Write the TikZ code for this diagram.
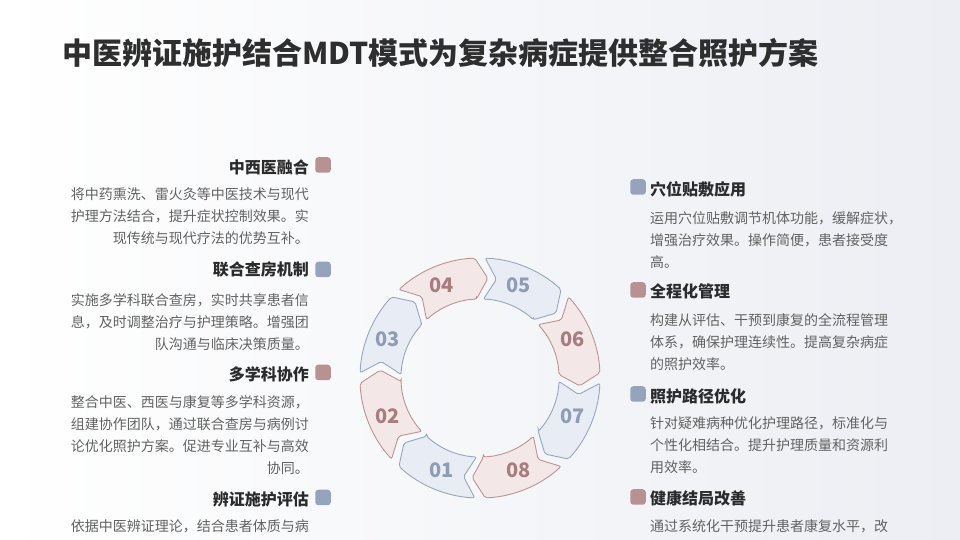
\documentclass[tikz,border=0pt]{standalone}
\usepackage{fontspec}
\setmainfont{Noto Sans CJK SC}
\definecolor{titlec}{HTML}{2E2E2E}
\definecolor{headc}{HTML}{2B2B2B}
\definecolor{bodyc}{HTML}{626262}
\definecolor{redm}{HTML}{B89292}
\definecolor{bluem}{HTML}{95A4BC}
\definecolor{redfill}{HTML}{F3E7E7}
\definecolor{bluefill}{HTML}{E8EDF5}
\definecolor{redline}{HTML}{BC9494}
\definecolor{blueline}{HTML}{97A6BF}
\definecolor{rednum}{HTML}{A77D7D}
\definecolor{bluenum}{HTML}{8E9CB5}
\definecolor{bgr}{HTML}{ECEEF3}
\tikzset{
  lhead/.style={anchor=base east, inner sep=0pt, font=\fontsize{16}{16}\selectfont\bfseries, text=headc},
  rhead/.style={anchor=base west, inner sep=0pt, font=\fontsize{16}{16}\selectfont\bfseries, text=headc},
  lbody/.style={anchor=base east, align=right, inner sep=0pt, font=\fontsize{14}{21.7}\selectfont, text=bodyc},
  rbody/.style={anchor=base west, align=left, inner sep=0pt, font=\fontsize{14}{21.7}\selectfont, text=bodyc},
  marker/.style={minimum size=15.5pt, inner sep=0pt, rounded corners=3pt},
  markred/.style={marker, fill=redm},
  markblue/.style={marker, fill=bluem},
  segred/.style={fill=redfill, draw=redline, line width=0.9pt},
  segblue/.style={fill=bluefill, draw=blueline, line width=0.9pt},
  numred/.style={text=rednum, font=\fontsize{20}{20}\selectfont\bfseries},
  numblue/.style={text=bluenum, font=\fontsize{20}{20}\selectfont\bfseries},
}
\begin{document}
\begin{tikzpicture}[x=1pt,y=1pt]
\useasboundingbox (0,0) rectangle (960,540);
\shade[left color=white, right color=bgr] (0,0) rectangle (960,540);

\node[anchor=base west, inner sep=0pt, font=\fontsize{30}{30}\selectfont\bfseries, text=titlec] (title) at (62,475.5) {中医辨证施护结合MDT模式为复杂病症提供整合照护方案};

% ring
\begin{scope}[shift={(480,162)}]
\foreach \n/\a/\c in {01/225/blue,02/180/red,03/135/blue,04/90/red,05/45/blue,06/0/red,07/-45/blue,08/-90/red}{
  \pgfmathsetmacro\L{\a+2.5}
  \pgfmathsetmacro\U{\a+42.5}
  \pgfmathsetmacro\Lt{\L-7}
  \pgfmathsetmacro\Ut{\U-7}
  \pgfmathsetmacro\M{\a+22.5}
  \draw[seg\c, rounded corners=2pt] (\L:79) -- (\Lt:100) -- (\L:120) arc[start angle=\L, end angle=\U, radius=120] -- (\Ut:100) -- (\U:79) arc[start angle=\U, end angle=\L, radius=79] -- cycle;
  \node[num\c] (n\n) at (\M:100) {\n};
}
\end{scope}

% left column
\node[markred] (lm1) at (323,375) {};
\node[lhead] (lh1) at (309,366) {中西医融合};
\node[lbody] (lb1) at (309,296.6) {将中药熏洗、雷火灸等中医技术与现代\\护理方法结合，提升症状控制效果。实\\现传统与现代疗法的优势互补。};

\node[markblue] (lm2) at (323,270.5) {};
\node[lhead] (lh2) at (309,264) {联合查房机制};
\node[lbody] (lb2) at (309,190.6) {实施多学科联合查房，实时共享患者信\\息，及时调整治疗与护理策略。增强团\\队沟通与临床决策质量。};

\node[markred] (lm3) at (323,167.5) {};
\node[lhead] (lh3) at (309,159) {多学科协作};
\node[lbody] (lb3) at (309,66.9) {整合中医、西医与康复等多学科资源，\\组建协作团队，通过联合查房与病例讨\\论优化照护方案。促进专业互补与高效\\协同。};

\node[markblue] (lm4) at (323,42.5) {};
\node[lhead] (lh4) at (309,34) {辨证施护评估};
\node[lbody] (lb4) at (309,8) {依据中医辨证理论，结合患者体质与病};

% right column
\node[markblue] (rm1) at (638,353) {};
\node[rhead] (rh1) at (650,344) {穴位贴敷应用};
\node[rbody] (rb1) at (650,272.6) {运用穴位贴敷调节机体功能，缓解症状，\\增强治疗效果。操作简便，患者接受度\\高。};

\node[markred] (rm2) at (638,250) {};
\node[rhead] (rh2) at (650,242) {全程化管理};
\node[rbody] (rb2) at (650,170.6) {构建从评估、干预到康复的全流程管理\\体系，确保护理连续性。提高复杂病症\\的照护效率。};

\node[markblue] (rm3) at (638,146) {};
\node[rhead] (rh3) at (650,137) {照护路径优化};
\node[rbody] (rb3) at (650,67.6) {针对疑难病种优化护理路径，标准化与\\个性化相结合。提升护理质量和资源利\\用效率。};

\node[markred] (rm4) at (638,43) {};
\node[rhead] (rh4) at (650,35) {健康结局改善};
\node[rbody] (rb4) at (650,8) {通过系统化干预提升患者康复水平，改};
\end{tikzpicture}
\end{document}
